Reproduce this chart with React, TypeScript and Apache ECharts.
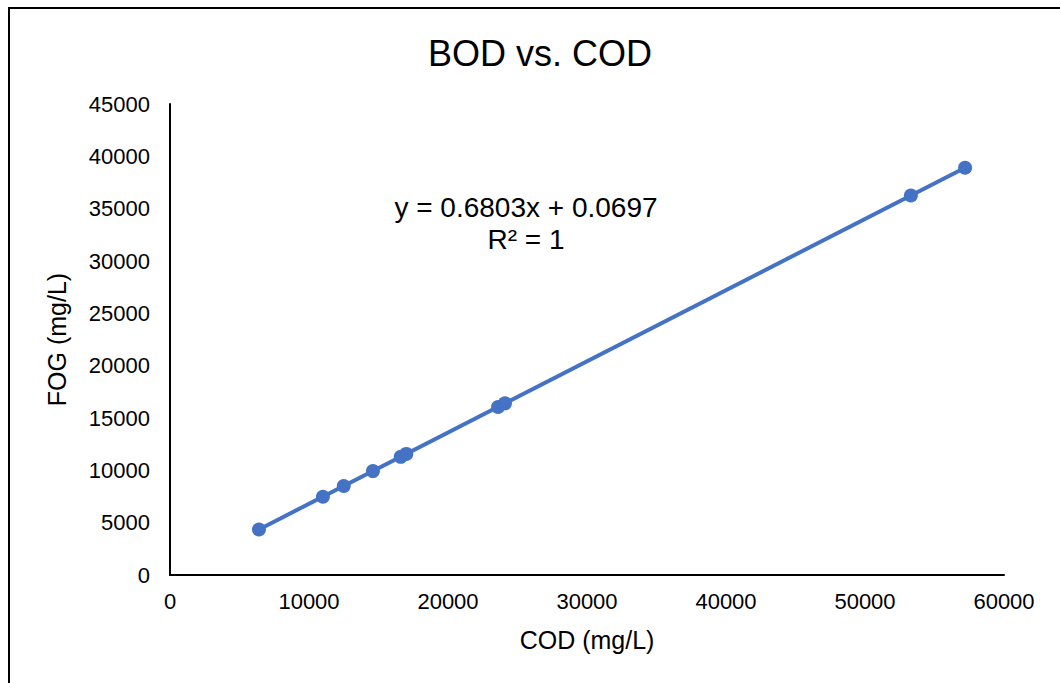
import React, { useEffect, useRef } from "react";
import * as echarts from "echarts";

// COD (x) and FOG (y) measurements, mg/L
const codValues = [6400, 11000, 12500, 14600, 16600, 17000, 23600, 24100, 53300, 57200];
const fogValues = [4350, 7480, 8500, 9930, 11290, 11570, 16050, 16400, 36260, 38910];

// Linear fit reported on the chart
const slope = 0.6803;
const intercept = 0.0697;
const equationLines = ["y = 0.6803x + 0.0697", "R² = 1"];

const titleText = "BOD vs. COD";
const xAxisName = "COD (mg/L)";
const yAxisName = "FOG (mg/L)";

const FONT = "'Liberation Sans', Arial, sans-serif";
const BLUE = "#4472C4";

export default function App() {
  const ref = useRef<HTMLDivElement>(null);

  useEffect(() => {
    if (!ref.current) return;
    const chart = echarts.init(ref.current, null, { renderer: "svg" });

    const points = codValues.map((x, i) => [x, fogValues[i]]);
    const xMin = Math.min(...codValues);
    const xMax = Math.max(...codValues);
    const trend = [
      [xMin, slope * xMin + intercept],
      [xMax, slope * xMax + intercept],
    ];
    const plain = (v: number) => String(v);

    chart.setOption({
      animation: false,
      backgroundColor: "#fff",
      textStyle: { fontFamily: FONT },
      title: {
        text: titleText,
        left: 535,
        top: 30,
        textAlign: "center",
        textStyle: { fontFamily: FONT, fontSize: 36, fontWeight: "normal", color: "#000" },
      },
      grid: { left: 170, right: 56, top: 104, bottom: 108 },
      xAxis: {
        type: "value",
        min: 0,
        max: 60000,
        interval: 10000,
        name: xAxisName,
        nameLocation: "middle",
        nameGap: 52,
        nameTextStyle: { fontFamily: FONT, fontSize: 25, color: "#000" },
        axisLine: { lineStyle: { color: "#000", width: 2 } },
        axisTick: { show: false },
        splitLine: { show: false },
        axisLabel: { fontFamily: FONT, fontSize: 22, color: "#000", margin: 15, formatter: plain },
      },
      yAxis: {
        type: "value",
        min: 0,
        max: 45000,
        interval: 5000,
        name: yAxisName,
        nameLocation: "middle",
        nameRotate: 90,
        nameGap: 101,
        nameTextStyle: { fontFamily: FONT, fontSize: 25, color: "#000" },
        axisLine: { show: true, lineStyle: { color: "#000", width: 2 } },
        axisTick: { show: false },
        splitLine: { show: false },
        axisLabel: { fontFamily: FONT, fontSize: 22, color: "#000", margin: 20, formatter: plain },
      },
      graphic: [
        {
          type: "rect",
          shape: { x: 9, y: 8, width: 1100, height: 700 },
          style: { fill: "none", stroke: "#000", lineWidth: 2 },
          silent: true,
        },
        {
          type: "text",
          x: 526,
          y: 207,
          style: {
            text: equationLines[0],
            fontFamily: FONT,
            fontSize: 28,
            fill: "#000",
            textAlign: "center",
            textVerticalAlign: "middle",
          },
        },
        {
          type: "text",
          x: 526,
          y: 239,
          style: {
            text: equationLines[1],
            fontFamily: FONT,
            fontSize: 28,
            fill: "#000",
            textAlign: "center",
            textVerticalAlign: "middle",
          },
        },
      ],
      series: [
        {
          type: "line",
          data: trend,
          showSymbol: false,
          symbol: "none",
          lineStyle: { color: BLUE, width: 4 },
          z: 2,
        },
        {
          type: "scatter",
          data: points,
          symbolSize: 14,
          itemStyle: { color: BLUE, opacity: 1 },
          z: 3,
        },
      ],
    });

    return () => chart.dispose();
  }, []);

  return (
    <div
      ref={ref}
      style={{ position: "absolute", left: 0, top: 0, width: 1060, height: 683 }}
    />
  );
}
